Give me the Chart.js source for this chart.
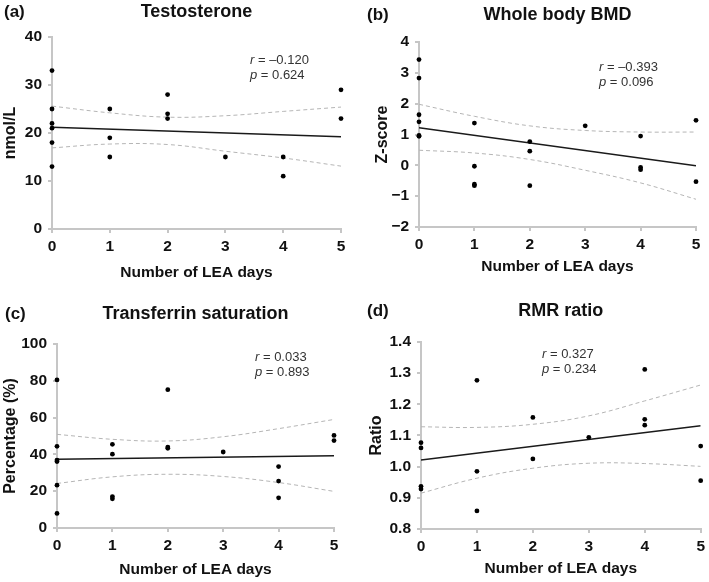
<!DOCTYPE html>
<html>
<head>
<meta charset="utf-8">
<script src="https://cdn.jsdelivr.net/npm/chart.js@4.4.1/dist/chart.umd.min.js"></script>
<style>
  body { margin: 0; background: #fff; }
  .panel { position: absolute; }
</style>
</head>
<body>
<div class="panel" style="left:0;top:0"><canvas id="chartA" width="354" height="291"></canvas></div>
<div class="panel" style="left:354px;top:0"><canvas id="chartB" width="355" height="291"></canvas></div>
<div class="panel" style="left:0;top:291px"><canvas id="chartC" width="354" height="291"></canvas></div>
<div class="panel" style="left:354px;top:291px"><canvas id="chartD" width="355" height="291"></canvas></div>
<script>
"use strict";

// shared x axis (number of LEA days)
const xTicks = [0, 1, 2, 3, 4, 5];
const fitX = [0, 5];
const ciX = [0, 1, 2, 3, 4, 5];

// (a) Testosterone
const testoX = [0, 0, 0, 0, 0, 0, 1, 1, 1, 2, 2, 2, 3, 4, 4, 5, 5];
const testoY = [33, 25, 22, 21, 18, 13, 25, 19, 15, 28, 24, 23, 15, 15, 11, 29, 23];
const testoFit = [21.2, 19.2];
const testoUpper = [25.6, 24.2, 23.3, 23.6, 24.5, 25.4];
const testoLower = [16.9, 17.7, 17.6, 16.2, 14.8, 13.1];
const testoTicks = [0, 10, 20, 30, 40];

// (b) Whole body BMD
const bmdX = [0, 0, 0, 0, 0, 0, 1, 1, 1, 1, 2, 2, 2, 3, 4, 4, 4, 5, 5];
const bmdY = [3.43, 2.83, 1.64, 1.41, 0.97, 0.94, 1.37, -0.03, -0.61, -0.66, 0.77, 0.46, -0.66, 1.28, 0.95, -0.07, -0.14, 1.46, -0.53];
const bmdFit = [1.22, -0.01];
const bmdUpper = [1.98, 1.59, 1.28, 1.13, 1.08, 1.08];
const bmdLower = [0.49, 0.40, 0.19, -0.16, -0.57, -1.10];
const bmdTicks = [-2, -1, 0, 1, 2, 3, 4];

// (c) Transferrin saturation
const tsatX = [0, 0, 0, 0, 0, 0, 1, 1, 1, 1, 2, 2, 2, 3, 4, 4, 4, 5, 5];
const tsatY = [80.5, 44.4, 36.9, 36.1, 23.3, 7.9, 45.5, 40.1, 17.1, 15.9, 75.2, 44.0, 43.3, 41.3, 33.4, 25.5, 16.4, 50.3, 47.5];
const tsatFit = [37.4, 39.2];
const tsatUpper = [50.9, 48.2, 47.3, 49.6, 54.0, 59.0];
const tsatLower = [24.2, 27.8, 29.2, 28.0, 24.7, 19.9];
const tsatTicks = [0, 20, 40, 60, 80, 100];

// (d) RMR ratio
const rmrX = [0, 0, 0, 0, 1, 1, 1, 2, 2, 3, 4, 4, 4, 5, 5];
const rmrY = [1.077, 1.060, 0.937, 0.928, 1.277, 0.985, 0.858, 1.158, 1.025, 1.094, 1.312, 1.152, 1.133, 1.066, 0.955];
const rmrFit = [1.021, 1.131];
const rmrUpper = [1.128, 1.126, 1.136, 1.163, 1.211, 1.262];
const rmrLower = [0.915, 0.963, 0.995, 1.011, 1.010, 1.001];
const rmrTicks = [0.8, 0.9, 1.0, 1.1, 1.2, 1.3, 1.4];

const AXIS_COLOR = '#c6c6c6';
const FONT = '"Liberation Sans", Arial, Helvetica, sans-serif';

function pairs(xs, ys) {
    return xs.map((x, i) => ({ x: x, y: ys[i] }));
}

function formatTick(v, digits) {
    const s = Math.abs(v).toFixed(digits);
    return v < 0 ? '\u2212' + s : s;
}

// draws panel letter, title and the r / p annotation
const panelText = {
    id: 'panelText',
    afterDraw(chart, args, opts) {
        const ctx = chart.ctx;
        const area = chart.chartArea;
        ctx.save();
        ctx.fillStyle = '#111';
        ctx.textBaseline = 'middle';
        ctx.font = 'bold 17px ' + FONT;
        ctx.textAlign = 'left';
        ctx.fillText(opts.letter, opts.letterX, opts.titleY);
        ctx.font = 'bold 18px ' + FONT;
        ctx.textAlign = 'center';
        ctx.fillText(opts.title, (area.left + area.right) / 2, opts.titleY);

        ctx.fillStyle = '#333';
        ctx.textAlign = 'left';
        const lines = [['r', ' = ' + opts.r, opts.statY], ['p', ' = ' + opts.p, opts.statY + 15]];
        lines.forEach(function(l) {
            ctx.font = 'italic 13px ' + FONT;
            ctx.fillText(l[0], opts.statX, l[2]);
            const w = ctx.measureText(l[0]).width;
            ctx.font = '13px ' + FONT;
            ctx.fillText(l[1], opts.statX + w, l[2]);
        });
        ctx.restore();
    }
};

function makePanel(id, cfg) {
    const canvas = document.getElementById(id);
    const W = canvas.width;
    const H = canvas.height;

    new Chart(canvas, {
        type: 'scatter',
        data: {
            datasets: [
                {
                    data: pairs(cfg.xs, cfg.ys),
                    pointRadius: 2.4,
                    pointBackgroundColor: '#000',
                    pointBorderWidth: 0,
                    showLine: false,
                    clip: false,
                    order: 0
                },
                {
                    data: pairs(fitX, cfg.fit),
                    showLine: true,
                    borderColor: '#1a1a1a',
                    borderWidth: 1.5,
                    pointRadius: 0,
                    order: 1
                },
                {
                    data: pairs(ciX, cfg.upper),
                    showLine: true,
                    borderColor: '#b5b5b5',
                    borderWidth: 1,
                    borderDash: [4, 3],
                    tension: 0.4,
                    pointRadius: 0,
                    order: 2
                },
                {
                    data: pairs(ciX, cfg.lower),
                    showLine: true,
                    borderColor: '#b5b5b5',
                    borderWidth: 1,
                    borderDash: [4, 3],
                    tension: 0.4,
                    pointRadius: 0,
                    order: 2
                }
            ]
        },
        options: {
            responsive: false,
            animation: false,
            devicePixelRatio: 1,
            layout: {
                padding: { left: 0, top: cfg.area.top, right: W - cfg.area.right, bottom: 0 }
            },
            plugins: {
                legend: { display: false },
                tooltip: { enabled: false },
                panelText: cfg.text
            },
            scales: {
                x: {
                    type: 'linear',
                    min: 0,
                    max: 5,
                    afterBuildTicks: function(scale) {
                        scale.ticks = xTicks.map(v => ({ value: v }));
                    },
                    afterFit: function(scale) {
                        scale.height = H - cfg.area.bottom;
                    },
                    grid: { drawOnChartArea: false, color: AXIS_COLOR, lineWidth: 2, tickLength: 4 },
                    border: { color: AXIS_COLOR, width: 2 },
                    ticks: {
                        color: '#111',
                        padding: 4,
                        maxRotation: 0,
                        font: { family: FONT, size: 15.5, weight: 'bold' }
                    },
                    title: {
                        display: true,
                        text: 'Number of LEA days',
                        color: '#111',
                        padding: { top: 0, bottom: cfg.xTitlePad },
                        font: { family: FONT, size: 15.5, weight: 'bold' }
                    }
                },
                y: {
                    type: 'linear',
                    min: cfg.ticks[0],
                    max: cfg.ticks[cfg.ticks.length - 1],
                    afterBuildTicks: function(scale) {
                        scale.ticks = cfg.ticks.map(v => ({ value: v }));
                    },
                    afterFit: function(scale) {
                        scale.width = cfg.area.left;
                    },
                    grid: { drawOnChartArea: false, color: AXIS_COLOR, lineWidth: 2, tickLength: 4 },
                    border: { color: AXIS_COLOR, width: 2 },
                    ticks: {
                        color: '#111',
                        padding: 6,
                        font: { family: FONT, size: 15.5, weight: 'bold' },
                        callback: function(v) { return formatTick(v, cfg.digits); }
                    },
                    title: {
                        display: true,
                        text: cfg.yTitle,
                        color: '#111',
                        padding: { top: cfg.yTitlePad, bottom: 0 },
                        font: { family: FONT, size: 16, weight: 'bold' }
                    }
                }
            }
        },
        plugins: [panelText]
    });
}

makePanel('chartA', {
    xs: testoX, ys: testoY, fit: testoFit, upper: testoUpper, lower: testoLower,
    ticks: testoTicks, digits: 0, yTitle: 'nmol/L',
    area: { left: 52, top: 37, right: 341, bottom: 229 },
    xTitlePad: 9, yTitlePad: 1,
    text: { letter: '(a)', letterX: 4, title: 'Testosterone', titleY: 12, r: '\u20130.120', p: '0.624', statX: 250, statY: 60 }
});

makePanel('chartB', {
    xs: bmdX, ys: bmdY, fit: bmdFit, upper: bmdUpper, lower: bmdLower,
    ticks: bmdTicks, digits: 0, yTitle: 'Z-score',
    area: { left: 65, top: 42, right: 342, bottom: 227 },
    xTitlePad: 15, yTitlePad: 19,
    text: { letter: '(b)', letterX: 13, title: 'Whole body BMD', titleY: 15, r: '\u20130.393', p: '0.096', statX: 245, statY: 67 }
});

makePanel('chartC', {
    xs: tsatX, ys: tsatY, fit: tsatFit, upper: tsatUpper, lower: tsatLower,
    ticks: tsatTicks, digits: 0, yTitle: 'Percentage (%)',
    area: { left: 57, top: 53, right: 334, bottom: 237 },
    xTitlePad: 3, yTitlePad: 1,
    text: { letter: '(c)', letterX: 5, title: 'Transferrin saturation', titleY: 23, r: '0.033', p: '0.893', statX: 255, statY: 66 }
});

makePanel('chartD', {
    xs: rmrX, ys: rmrY, fit: rmrFit, upper: rmrUpper, lower: rmrLower,
    ticks: rmrTicks, digits: 1, yTitle: 'Ratio',
    area: { left: 67, top: 51, right: 348, bottom: 238 },
    xTitlePad: 4, yTitlePad: 13,
    text: { letter: '(d)', letterX: 13, title: 'RMR ratio', titleY: 20, r: '0.327', p: '0.234', statX: 188, statY: 63 }
});
</script>
</body>
</html>
